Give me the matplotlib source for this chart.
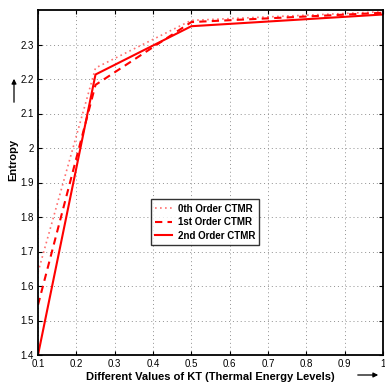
import matplotlib
matplotlib.use("Agg")
import matplotlib.pyplot as plt

# KT values and entropy for each CTMR order
kt = [0.1, 0.25, 0.5, 1.0]
order0 = [1.64, 2.232, 2.370, 2.395]
order1 = [1.545, 2.183, 2.365, 2.392]
order2 = [1.40, 2.213, 2.353, 2.387]
labels = ["0th Order CTMR", "1st Order CTMR", "2nd Order CTMR"]

xticks = [0.1, 0.2, 0.3, 0.4, 0.5, 0.6, 0.7, 0.8, 0.9, 1.0]
yticks = [1.4, 1.5, 1.6, 1.7, 1.8, 1.9, 2.0, 2.1, 2.2, 2.3]

plt.rcParams['font.family'] = ['Liberation Sans', 'DejaVu Sans']

fig = plt.figure(figsize=(3.85, 3.83), dpi=100)
ax = fig.add_axes([38/385, 28/383, 345/385, 345/383])

ax.plot(kt, order0, color='#ff7070', linestyle=(0, (1, 2)), linewidth=1.2, label=labels[0])
ax.plot(kt, order1, color='red', linestyle=(0, (3.5, 2.5)), linewidth=1.5, label=labels[1])
ax.plot(kt, order2, color='red', linestyle='-', linewidth=1.5, label=labels[2])

ax.set_xlim(0.1, 1.0)
ax.set_ylim(1.4, 2.4)
ax.set_xticks(xticks)
ax.set_yticks(yticks)
ax.set_xticklabels(['%g' % v for v in xticks], fontsize=7)
ax.set_yticklabels(['%g' % v for v in yticks], fontsize=7)
ax.tick_params(direction='in', top=True, right=True, length=3, width=0.8, pad=3)
ax.grid(True, color='#909090', linestyle=(0, (1, 3)), linewidth=0.7)
for s in ax.spines.values():
    s.set_linewidth(1.3)

ax.set_xlabel('Different Values of KT (Thermal Energy Levels)', fontsize=8, fontweight='bold', labelpad=2)
fig.text(13/385, 1-160/383, 'Entropy', rotation=90, ha='center', va='center',
         fontsize=8, fontweight='bold')

leg = ax.legend(loc='lower left', bbox_to_anchor=(0.313, 0.305), frameon=True,
                fancybox=False, edgecolor='black', handlelength=1.7, handletextpad=0.6,
                borderpad=0.45, labelspacing=0.35, prop={'weight': 'bold', 'size': 7})
leg.get_frame().set_linewidth(1.0)

# direction arrows next to the axis labels
fig.patches.append(matplotlib.patches.FancyArrowPatch((14/385, 1-105/383), (14/385, 1-76/383),
                   transform=fig.transFigure, arrowstyle='-|>', mutation_scale=7, color='black', lw=0.9))
fig.patches.append(matplotlib.patches.FancyArrowPatch((355/385, 1-375/383), (381/385, 1-375/383),
                   transform=fig.transFigure, arrowstyle='-|>', mutation_scale=7, color='black', lw=0.9))

fig.savefig('out.png', dpi=100)
